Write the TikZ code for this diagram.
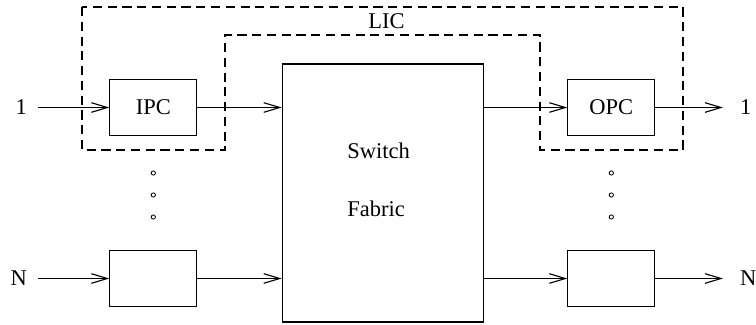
\documentclass[tikz,border=0pt]{standalone}
\usepackage{fontspec}
\setmainfont{Liberation Serif}
\usetikzlibrary{arrows.meta}

\begin{document}
\begin{tikzpicture}[x=0.025cm, y=-0.025cm,
        font=\fontsize{16}{19}\selectfont,
        box/.style={draw, line width=0.8pt, minimum width=2.17cm,
                    minimum height=1.42cm, inner sep=0pt},
        port/.style={inner sep=0pt},
        arr/.style={-{Straight Barb[length=4mm, width=2.4mm]}, line width=0.8pt},
        lic/.style={dash pattern=on 6.5pt off 4pt, line width=0.8pt}
    ]
        \useasboundingbox (0,0) rectangle (756,324);
        \node[box] (ipc1)   at (153.3, 107.5) {IPC};
        \node[box] (ipcN)   at (153.3, 278.5) {};
        \node[box] (opc1)   at (611.3, 107.5) {OPC};
        \node[box] (opcN)   at (611.3, 278.5) {};
        \node[box, minimum width=5.02cm, minimum height=6.45cm] (fabric) at (382.7, 193) {};
        \node[port, anchor=base west] (swlbl) at (347, 158) {Switch};
        \node[port, anchor=base west] (fblbl) at (347, 216) {Fabric};
        \node[port, anchor=base west] (lic)   at (368, 28) {LIC};
        \node[port, anchor=east, outer sep=0.275cm] (in1)  at (38, 107.5) {1};
        \node[port, anchor=east, outer sep=0.275cm] (inN)  at (38, 278.5) {N};
        \node[port, anchor=west, outer sep=0.425cm] (out1) at (723, 107.5) {1};
        \node[port, anchor=west, outer sep=0.425cm] (outN) at (723, 278.5) {N};
        \draw[lic] (82,7) -- (82,150) -- (225,150) -- (225,35) -- (540,35)
                   -- (540,150) -- (683,150) -- (683,7) -- cycle;
        \draw[arr] (in1) -- (ipc1);
        \draw[arr] (inN) -- (ipcN);
        \draw[arr] (ipc1) -- (ipc1 -| fabric.west);
        \draw[arr] (ipcN) -- (ipcN -| fabric.west);
        \draw[arr] (fabric.east |- opc1) -- (opc1);
        \draw[arr] (fabric.east |- opcN) -- (opcN);
        \draw[arr] (opc1) -- (out1);
        \draw[arr] (opcN) -- (outN);
        \foreach \y in {173, 195, 217} {
            \draw[line width=0.6pt] (153.3, \y) circle[radius=1.5pt];
            \draw[line width=0.6pt] (611.3, \y) circle[radius=1.5pt];
        }
    \end{tikzpicture}
\end{document}
